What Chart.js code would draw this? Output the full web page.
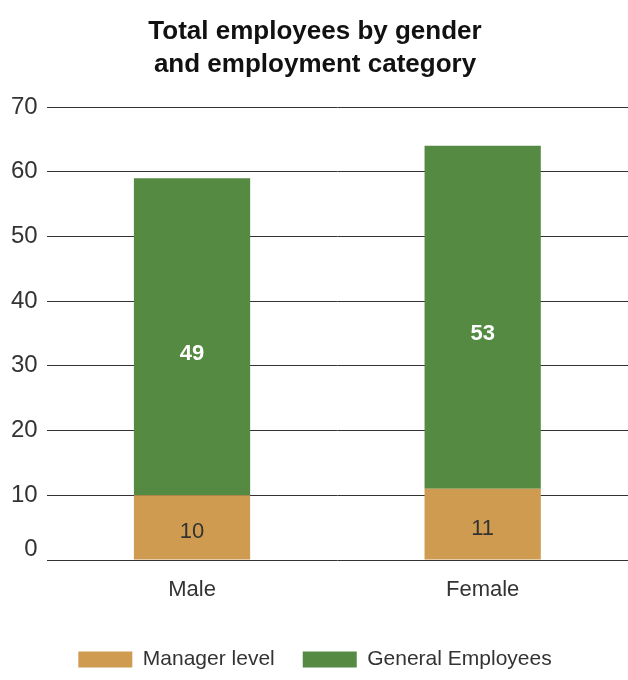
<!DOCTYPE html>
<html>
<head>
<meta charset="utf-8">
<script src="https://cdn.jsdelivr.net/npm/chart.js@4"></script>
<style>
  body { margin: 0; background: #fff; }
  #wrap { width: 628px; height: 680px; }
</style>
</head>
<body>
<div id="wrap"><canvas id="myChart"></canvas></div>
<script>
var categories = ['Male', 'Female'];
var managerLevel = [10, 11];
var generalEmployees = [49, 53];
var yTicks = [0, 10, 20, 30, 40, 50, 60, 70];

var FONT = "'Liberation Sans', Arial, sans-serif";

// draws the numbers inside the bars
var barLabels = {
  id: 'barLabels',
  afterDatasetsDraw: function(chart) {
    var ctx = chart.ctx;
    chart.data.datasets.forEach(function(ds, i) {
      var meta = chart.getDatasetMeta(i);
      meta.data.forEach(function(bar, j) {
        var y = (bar.y + bar.base) / 2;
        ctx.save();
        ctx.textAlign = 'center';
        ctx.textBaseline = 'middle';
        if (i == 1) {
          ctx.fillStyle = '#ffffff';
          ctx.font = 'bold 22px ' + FONT;
          y += 17;
        } else {
          ctx.fillStyle = '#333333';
          ctx.font = '22px ' + FONT;
          y += 5;
        }
        ctx.fillText(ds.data[j], bar.x, y);
        ctx.restore();
      });
    });
  }
};

var ctx = document.getElementById('myChart').getContext('2d');
var chart = new Chart(ctx, {
  type: 'bar',
  data: {
    labels: categories,
    datasets: [{
      label: 'Manager level',
      data: managerLevel,
      backgroundColor: 'rgb(207,155,80)',
      barPercentage: 0.4,
      categoryPercentage: 1.0
    }, {
      label: 'General Employees',
      data: generalEmployees,
      backgroundColor: 'rgb(85,138,66)',
      barPercentage: 0.4,
      categoryPercentage: 1.0
    }]
  },
  options: {
    responsive: true,
    maintainAspectRatio: false,
    animation: false,
    events: [],
    layout: {
      padding: { left: 2, right: 0, top: 15, bottom: 0 }
    },
    scales: {
      x: {
        stacked: true,
        grid: { display: false },
        border: { display: false },
        ticks: {
          color: '#333',
          font: { size: 22, family: FONT },
          padding: 9
        },
        afterFit: function(scale) {
          scale.height = 61;
        }
      },
      y: {
        stacked: true,
        min: 0,
        max: 70,
        afterBuildTicks: function(axis) {
          axis.ticks = yTicks.map(function(v) { return { value: v }; });
        },
        grid: {
          color: '#333',
          lineWidth: 1,
          drawTicks: false
        },
        border: { display: false },
        ticks: {
          color: '#333',
          font: { size: 24, family: FONT, lineHeight: 0.9 },
          padding: 9,
          callback: function(value) {
            // the 0 label sits a little above its line in the original
            return value === 0 ? ['0', ''] : value;
          }
        }
      }
    },
    plugins: {
      title: {
        display: true,
        text: ['Total employees by gender', 'and employment category'],
        color: '#111',
        font: { size: 26, weight: 'bold', family: FONT, lineHeight: 1.27 },
        padding: { top: 0, bottom: 26 }
      },
      legend: {
        display: true,
        position: 'bottom',
        labels: {
          color: '#333',
          boxWidth: 54,
          boxHeight: 16,
          padding: 28,
          font: { size: 21, family: FONT }
        }
      },
      tooltip: { enabled: false }
    }
  },
  plugins: [barLabels]
});
</script>
</body>
</html>
